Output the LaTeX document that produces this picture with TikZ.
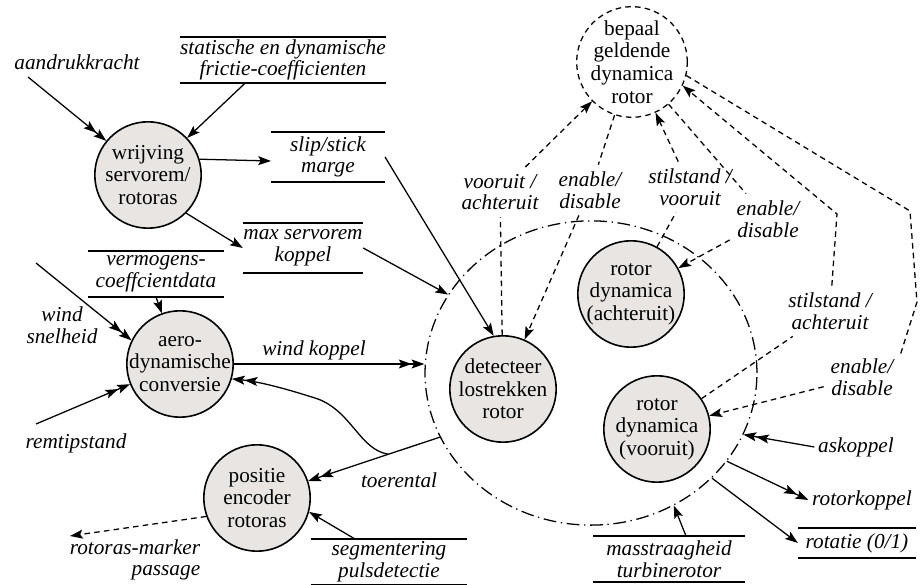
\documentclass[tikz,border=0pt]{standalone}
\usepackage{fontspec}
\setmainfont{Liberation Serif}
\usetikzlibrary{positioning,shapes.geometric,arrows.meta}
\definecolor{procgray}{RGB}{232,229,226}

\begin{document}
\begin{tikzpicture}[x=0.47pt,y=-0.47pt,line width=0.6pt,
  >={Stealth[length=6pt,width=4.2pt,inset=1.2pt]},
  proc/.style={circle,draw,line width=0.75pt,fill=procgray,align=center,
    inner sep=-4pt,minimum size=50pt,font=\fontsize{10}{10.6}\selectfont},
  ctrlproc/.style={proc,fill=white,line width=0.6pt,dash pattern=on 2.6pt off 2pt,minimum size=52pt},
  store/.style={align=center,inner xsep=0pt,inner ysep=1pt,minimum height=21pt,
    font=\fontsize{10}{10.2}\selectfont\itshape,
    append after command={(\tikzlastnode.north west) edge[line width=0.75pt] (\tikzlastnode.north east)
      (\tikzlastnode.south west) edge[line width=0.75pt] (\tikzlastnode.south east)}},
  term/.style={align=center,inner sep=1.5pt,font=\fontsize{10}{10.2}\selectfont\itshape},
  ctrllbl/.style={term,inner sep=3pt},
  ctrl/.style={dash pattern=on 2.6pt off 2pt}
]
\useasboundingbox (0,0) rectangle (920,585);

% the group round the rotor processes
\node[ellipse,draw,dash pattern=on 6pt off 2.2pt on 0.6pt off 2.2pt,
  minimum width=156pt,minimum height=143pt,inner sep=0pt] (grp) at (591,373) {};

% the processes
\node[proc] (wrij) at (148,175) {wrijving\\servorem/\\rotoras};
\node[proc] (aero) at (180,364) {aero-\\dynamische\\conversie};
\node[proc] (pos) at (257,498) {positie\\encoder\\rotoras};
\node[proc] (det) at (503,389) {detecteer\\lostrekken\\rotor};
\node[proc] (ach) at (631,294) {rotor\\dynamica\\(achteruit)};
\node[proc] (voor) at (657,429) {rotor\\dynamica\\(vooruit)};
\node[ctrlproc] (bep) at (632,62) {bepaal\\geldende\\dynamica\\rotor};

% the stores
\node[store,minimum width=95pt] (frictie) at (283,60) {statische en dynamische\\frictie-coefficienten};
\node[store,minimum width=53pt,minimum height=23pt] (slip) at (328,157) {slip/stick\\marge};
\node[store,minimum width=53pt,minimum height=23pt] (maxserv) at (303,248) {max servorem\\koppel};
\node[store,minimum width=63pt] (verm) at (156,274) {vermogens-\\coeffcientdata};
\node[store,minimum width=73pt] (seg) at (389,562) {segmentering\\pulsdetectie};
\node[store,minimum width=71pt] (mass) at (669,559) {masstraagheid\\turbinerotor};
\node[store,minimum width=55pt,minimum height=13.6pt] (rotatie) at (857,543) {rotatie (0/1)};

% the terminators
\node[term] (aandruk) at (77,62) {aandrukkracht};
\node[term] (windsnel) at (62,325) {wind\\snelheid};
\node[term] (remtip) at (76,443) {remtipstand};
\node[term,align=right] (marker) at (135,560) {rotoras-marker\\passage};
\node[term] (askop) at (856,447) {askoppel};
\node[term] (rotork) at (862,500) {rotorkoppel};

% the control labels
\node[ctrllbl] (va) at (500,192) {vooruit /\\achteruit};
\node[ctrllbl] (ed1) at (590,190) {enable/\\disable};
\node[ctrllbl] (sv) at (690,187) {stilstand /\\vooruit};
\node[ctrllbl] (ed2) at (768,219) {enable/\\disable};
\node[ctrllbl] (sa) at (830,311) {stilstand /\\achteruit};
\node[ctrllbl] (ed3) at (862,377) {enable/\\disable};

\coordinate (ak) at (28,77);
\coordinate (ws) at (36,263);
\coordinate (rt) at (36,424);
\coordinate (mk) at (70,536);
\coordinate (k1) at (837,214);
\coordinate (k2) at (910,211);
\coordinate (k3) at (917,302);

% the data flows
\draw[->>] (ak) -- (wrij);
\draw[->] ([shift={(-38,0)}]frictie.south) -- (wrij);
\draw[->] (wrij.17) -- ([shift={(0,4)}]slip.west);
\draw[->] (wrij.-45) -- (maxserv.west);
\draw[->] (slip.east) -- (det.100);
\draw[->] (maxserv.east) -- (grp);
\draw[->] (verm.south) -- (aero);
\draw[->>] (ws) -- (aero.154);
\draw[->>] (rt) -- (aero.202);
\draw[->>] (aero.east) -- node[term,above,pos=0.42] {wind koppel} (aero.east -| grp.west);
\draw[->>] (grp.203) -- coordinate[pos=0.39] (br) node[term,below=8.5pt,pos=0.31] {toerental} (pos);
\draw[->>] (br) .. controls (360,450) and (352,412) .. (318,399)
  .. controls (290,390) and (262,382) .. (aero.-16);
\draw[->] ([shift={(-34,0)}]seg.north) -- (pos.-15);
\draw[->,ctrl] (pos.200) -- (mk);
\draw[->>] (askop.west) -- (grp.-22);
\draw[->>] (grp.-33) -- (rotork.west);
\draw[->] (grp.-41) -- (rotatie.west);
\draw[->] ([shift={(17,0)}]mass.north) -- (grp.-58);

% the control flows
\draw[->,ctrl] (det) -- (va) -- (bep);
\draw[->,ctrl] (bep) -- (ed1) -- (det);
\draw[->,ctrl] (ach) -- (sv) -- (bep);
\draw[->,ctrl] (bep) -- (ed2) -- (ach);
\draw[->,ctrl] (voor) -- (sa) -- (k1) -- (bep.-25);
\draw[ctrl] (bep.-14) -- (k2) -- (k3) -- (ed3.30);
\draw[->,ctrl] (ed3) -- (voor);
\end{tikzpicture}
\end{document}
